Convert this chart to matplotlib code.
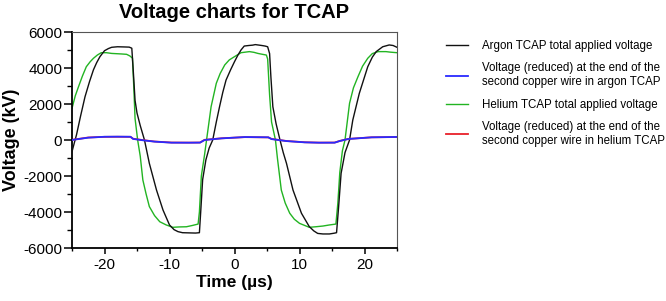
import matplotlib
matplotlib.use("Agg")
import matplotlib.pyplot as plt
from matplotlib.ticker import MultipleLocator

plt.rcParams['font.family'] = ['Liberation Sans', 'DejaVu Sans']

# Argon TCAP total applied voltage (black)
t_ar = [-25.0, -24.6, -24.3, -23.7, -23.0, -22.3, -21.7, -21.2, -20.7, -20.0, -19.4, -18.9,
        -18.0, -17.0, -16.2, -15.8, -15.6, -15.3, -15.0, -14.5, -13.85, -13.1, -12.0, -11.0,
        -10.0, -9.3, -8.7, -8.0, -7.0, -6.0, -5.4, -5.2, -4.9, -4.4, -3.9, -3.35, -2.8, -2.3,
        -1.8, -1.3, -0.6, 0.0, 0.5, 1.0, 1.5, 2.2, 2.8, 3.2, 3.6, 4.2, 4.7, 5.1, 5.4, 5.6,
        5.9, 6.4, 7.0, 7.5, 8.0, 9.0, 10.3, 11.5, 12.2, 12.8, 13.6, 14.6, 15.3, 15.7, 16.0,
        16.4, 17.0, 17.7, 18.2, 19.2, 20.5, 21.2, 21.8, 22.8, 23.8, 24.4, 25.0]
v_ar = [-650, -100, 300, 1300, 2400, 3250, 3900, 4300, 4630, 4960, 5080, 5150,
        5180, 5170, 5160, 5100, 4000, 2200, 1500, 800, 0, -1300, -2780, -3890,
        -4720, -4980, -5090, -5150, -5160, -5170, -5150, -4000, -2200, -1100, -450, 0, 1000, 1850,
        2650, 3330, 3900, 4350, 4700, 5000, 5220, 5250, 5270, 5300, 5280, 5250, 5220, 5180, 4800, 3500,
        1850, 900, 0, -700, -1300, -2780, -4070, -4810, -5050, -5190, -5220, -5220, -5180, -5150, -3800,
        -1850, -700, 0, 1110, 2590, 4070, 4600, 4910, 5180, 5280, 5250, 5150]

# Helium TCAP total applied voltage (green)
t_he = [-25.0, -24.5, -24.0, -23.4, -22.8, -22.2, -21.7, -21.1, -20.5, -19.7, -18.9, -17.4,
        -16.6, -16.1, -15.7, -15.5, -15.3, -15.1, -14.9, -14.5, -14.1, -13.6, -13.1, -12.3,
        -11.5, -10.5, -9.5, -8.5, -7.4, -6.5, -5.6, -5.4, -5.1, -4.6, -4.3, -3.6, -2.8, -2.2,
        -1.5, -0.8, 0.0, 1.0, 2.3, 3.0, 3.6, 4.3, 4.9, 5.1, 5.4, 5.7, 6.0, 6.3, 6.6, 7.2,
        7.8, 8.5, 9.2, 10.0, 11.5, 12.5, 13.6, 14.6, 15.6, 15.9, 16.2, 16.6, 17.0, 17.7,
        18.3, 19.0, 19.7, 20.5, 21.2, 22.1, 23.3, 24.0, 25.0]
v_he = [1760, 2450, 2960, 3550, 4070, 4350, 4540, 4720, 4850, 4850, 4810, 4780,
        4760, 4670, 4550, 3000, 1200, 600, 0, -900, -2220, -3000, -3700, -4200,
        -4540, -4720, -4850, -4830, -4820, -4750, -4670, -4000, -2000, -800, 0, 1850, 3150, 3700,
        4170, 4450, 4630, 4850, 4910, 4870, 4810, 4760, 4720, 4500, 2500, 1000, 500, 0, -1000, -2780,
        -3500, -4070, -4400, -4630, -4850, -4820, -4780, -4720, -4670, -3500, -1800, -600, 0, 2040,
        2900, 3520, 4100, 4540, 4800, 4910, 4910, 4880, 4850]

# Reduced voltage at the end of the second copper wire
t_wire = [-25.0, -23.5, -22.5, -20.0, -18.0, -16.0, -15.6, -14.0, -12.3, -9.7, -7.0, -5.3,
          -4.6, -2.0, 1.6, 5.2, 5.7, 8.0, 10.8, 13.0, 15.4, 16.2, 17.5, 21.1, 25.0]
v_wire_ar = [0, 80, 130, 180, 185, 180, 60, -20, -90, -148, -150, -145,
             0, 90, 165, 150, 50, -60, -130, -150, -148, -56, 56, 148, 170]
v_wire_he = [10, 85, 140, 175, 180, 175, 70, -10, -85, -140, -145, -140,
             10, 95, 160, 145, 60, -55, -125, -145, -142, -50, 60, 150, 165]

labels = ["Argon TCAP total applied voltage",
          "Voltage (reduced) at the end of the\nsecond copper wire in argon TCAP",
          "Helium TCAP total applied voltage",
          "Voltage (reduced) at the end of the\nsecond copper wire in helium TCAP"]

fig = plt.figure(figsize=(6.66, 3.01), dpi=100)
ax = fig.add_axes([72 / 666, 1 - 248 / 301, 325 / 666, 216 / 301])

l1, = ax.plot(t_ar, v_ar, color='#111111', lw=1.0, zorder=3)
l2, = ax.plot(t_wire, v_wire_ar, color='#2a2aff', lw=1.3, zorder=5)
l3, = ax.plot(t_he, v_he, color='#22b422', lw=1.0, zorder=2)
l4, = ax.plot(t_wire, v_wire_he, color='#e8202a', lw=1.3, zorder=4)

ax.set_xlim(-25, 25)
ax.set_ylim(-6000, 6000)
ax.xaxis.set_major_locator(MultipleLocator(10))
ax.xaxis.set_minor_locator(MultipleLocator(5))
ax.yaxis.set_major_locator(MultipleLocator(2000))
ax.yaxis.set_minor_locator(MultipleLocator(1000))

for s in ['left', 'bottom']:
    ax.spines[s].set_linewidth(1.3)
    ax.spines[s].set_color('black')
for s in ['top', 'right']:
    ax.spines[s].set_linewidth(0.8)
    ax.spines[s].set_color('#555555')

ax.tick_params(axis='y', which='major', length=6, width=1.1, labelsize=11, pad=1)
ax.tick_params(axis='y', which='minor', length=3.5, width=1.0)
ax.tick_params(axis='x', which='major', length=4.5, width=1.1, labelsize=11, pad=3)
ax.tick_params(axis='x', which='minor', length=2.5, width=1.0)
ax.yaxis.set_major_formatter(matplotlib.ticker.FuncFormatter(lambda v, p: f"{int(v)}"))
ax.xaxis.set_major_formatter(matplotlib.ticker.FuncFormatter(lambda v, p: f"{int(v)}"))

ax.set_title("Voltage charts for TCAP", fontsize=14.5, fontweight='bold', pad=10)
ax.set_xlabel("Time (µs)", fontsize=12.5, fontweight='bold', labelpad=2)
ax.set_ylabel("Voltage (kV)", fontsize=13, fontweight='bold', labelpad=2)

fig.legend([l1, l2, l3, l4], labels, loc='upper left',
           bbox_to_anchor=(446 / 666, 1 - 40 / 301), frameon=False,
           fontsize=8.3, handlelength=1.9, handletextpad=1.2,
           labelspacing=0.9, borderpad=0, borderaxespad=0)

fig.savefig("out.png", dpi=100)
